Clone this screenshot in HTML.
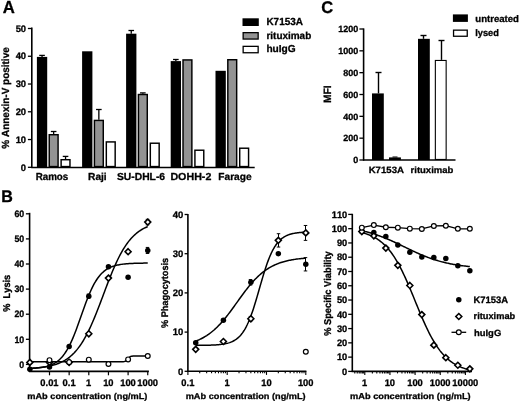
<!DOCTYPE html>
<html><head><meta charset="utf-8"><style>
html,body{margin:0;padding:0;background:#fff;width:520px;height:403px;overflow:hidden}
svg{display:block;will-change:transform;filter:blur(0.3px)}
</style></head><body>
<svg width="520" height="403" viewBox="0 0 520 403"><defs></defs><text transform="translate(2.68,13.45) scale(1,1.0448)" font-size="16.694" font-family="Liberation Sans, sans-serif" font-weight="bold" text-rendering="geometricPrecision" style="font-kerning:none;font-variant-ligatures:none" stroke="#000" stroke-width="0.30" stroke-linejoin="round" xml:space="preserve">A</text>
<line x1="31.80" y1="27.40" x2="31.80" y2="167.90" stroke="#000" stroke-width="1.6"/>
<line x1="27.90" y1="167.30" x2="31.80" y2="167.30" stroke="#000" stroke-width="1.3"/>
<text transform="translate(20.86,170.51) scale(1,0.9917)" font-size="9.4" font-family="Liberation Sans, sans-serif" font-weight="bold" text-rendering="geometricPrecision" style="font-kerning:none;font-variant-ligatures:none" stroke="#000" stroke-width="0.30" stroke-linejoin="round" xml:space="preserve">0</text>
<line x1="27.90" y1="139.54" x2="31.80" y2="139.54" stroke="#000" stroke-width="1.3"/>
<text transform="translate(15.63,142.75) scale(1,0.9917)" font-size="9.4" font-family="Liberation Sans, sans-serif" font-weight="bold" text-rendering="geometricPrecision" style="font-kerning:none;font-variant-ligatures:none" stroke="#000" stroke-width="0.30" stroke-linejoin="round" xml:space="preserve">10</text>
<line x1="27.90" y1="111.78" x2="31.80" y2="111.78" stroke="#000" stroke-width="1.3"/>
<text transform="translate(15.63,114.99) scale(1,0.9917)" font-size="9.4" font-family="Liberation Sans, sans-serif" font-weight="bold" text-rendering="geometricPrecision" style="font-kerning:none;font-variant-ligatures:none" stroke="#000" stroke-width="0.30" stroke-linejoin="round" xml:space="preserve">20</text>
<line x1="27.90" y1="84.02" x2="31.80" y2="84.02" stroke="#000" stroke-width="1.3"/>
<text transform="translate(15.63,87.23) scale(1,0.9917)" font-size="9.4" font-family="Liberation Sans, sans-serif" font-weight="bold" text-rendering="geometricPrecision" style="font-kerning:none;font-variant-ligatures:none" stroke="#000" stroke-width="0.30" stroke-linejoin="round" xml:space="preserve">30</text>
<line x1="27.90" y1="56.26" x2="31.80" y2="56.26" stroke="#000" stroke-width="1.3"/>
<text transform="translate(15.63,59.47) scale(1,0.9917)" font-size="9.4" font-family="Liberation Sans, sans-serif" font-weight="bold" text-rendering="geometricPrecision" style="font-kerning:none;font-variant-ligatures:none" stroke="#000" stroke-width="0.30" stroke-linejoin="round" xml:space="preserve">40</text>
<line x1="27.90" y1="28.50" x2="31.80" y2="28.50" stroke="#000" stroke-width="1.3"/>
<text transform="translate(15.63,31.71) scale(1,0.9917)" font-size="9.4" font-family="Liberation Sans, sans-serif" font-weight="bold" text-rendering="geometricPrecision" style="font-kerning:none;font-variant-ligatures:none" stroke="#000" stroke-width="0.30" stroke-linejoin="round" xml:space="preserve">50</text>
<line x1="31.20" y1="167.45" x2="254.70" y2="167.45" stroke="#000" stroke-width="1.5"/>
<text transform="translate(9.10,148.65) rotate(-90) scale(1,1.0350)" font-size="9.971" font-family="Liberation Sans, sans-serif" font-weight="bold" text-rendering="geometricPrecision" style="font-kerning:none;font-variant-ligatures:none" stroke="#000" stroke-width="0.30" stroke-linejoin="round" xml:space="preserve">% Annexin-V positive</text>
<line x1="42.05" y1="55.40" x2="42.05" y2="56.90" stroke="#000" stroke-width="1.3"/>
<line x1="39.25" y1="55.40" x2="44.85" y2="55.40" stroke="#000" stroke-width="1.3"/>
<rect x="36.90" y="56.90" width="10.30" height="110.40" fill="#000"/>
<line x1="53.65" y1="131.50" x2="53.65" y2="134.00" stroke="#000" stroke-width="1.3"/>
<line x1="50.85" y1="131.50" x2="56.45" y2="131.50" stroke="#000" stroke-width="1.3"/>
<rect x="49.23" y="134.72" width="8.85" height="31.85" fill="#939393" stroke="#000" stroke-width="1.45"/>
<line x1="65.55" y1="156.40" x2="65.55" y2="159.00" stroke="#000" stroke-width="1.3"/>
<line x1="62.75" y1="156.40" x2="68.35" y2="156.40" stroke="#000" stroke-width="1.3"/>
<rect x="61.12" y="159.72" width="8.85" height="6.85" fill="#fff" stroke="#000" stroke-width="1.45"/>
<text transform="translate(35.64,179.85) scale(1,1.0389)" font-size="9.794" font-family="Liberation Sans, sans-serif" font-weight="bold" text-rendering="geometricPrecision" style="font-kerning:none;font-variant-ligatures:none" stroke="#000" stroke-width="0.30" stroke-linejoin="round" xml:space="preserve">Ramos</text>
<rect x="82.10" y="51.30" width="10.30" height="116.00" fill="#000"/>
<line x1="98.85" y1="109.50" x2="98.85" y2="119.70" stroke="#000" stroke-width="1.3"/>
<line x1="96.05" y1="109.50" x2="101.65" y2="109.50" stroke="#000" stroke-width="1.3"/>
<rect x="94.42" y="120.42" width="8.85" height="46.15" fill="#939393" stroke="#000" stroke-width="1.45"/>
<rect x="106.32" y="141.92" width="8.85" height="24.65" fill="#fff" stroke="#000" stroke-width="1.45"/>
<text transform="translate(88.02,179.85) scale(1,0.9976)" font-size="10.199" font-family="Liberation Sans, sans-serif" font-weight="bold" text-rendering="geometricPrecision" style="font-kerning:none;font-variant-ligatures:none" stroke="#000" stroke-width="0.30" stroke-linejoin="round" xml:space="preserve">Raji</text>
<line x1="131.25" y1="30.50" x2="131.25" y2="33.70" stroke="#000" stroke-width="1.3"/>
<line x1="128.45" y1="30.50" x2="134.05" y2="30.50" stroke="#000" stroke-width="1.3"/>
<rect x="126.10" y="33.70" width="10.30" height="133.60" fill="#000"/>
<line x1="142.85" y1="92.90" x2="142.85" y2="93.80" stroke="#000" stroke-width="1.3"/>
<line x1="140.05" y1="92.90" x2="145.65" y2="92.90" stroke="#000" stroke-width="1.3"/>
<rect x="138.42" y="94.52" width="8.85" height="72.05" fill="#939393" stroke="#000" stroke-width="1.45"/>
<rect x="150.32" y="143.22" width="8.85" height="23.35" fill="#fff" stroke="#000" stroke-width="1.45"/>
<text transform="translate(116.90,179.85) scale(1,0.9836)" font-size="10.344" font-family="Liberation Sans, sans-serif" font-weight="bold" text-rendering="geometricPrecision" style="font-kerning:none;font-variant-ligatures:none" stroke="#000" stroke-width="0.30" stroke-linejoin="round" xml:space="preserve">SU-DHL-6</text>
<line x1="175.85" y1="59.50" x2="175.85" y2="61.10" stroke="#000" stroke-width="1.3"/>
<line x1="173.05" y1="59.50" x2="178.65" y2="59.50" stroke="#000" stroke-width="1.3"/>
<rect x="170.70" y="61.10" width="10.30" height="106.20" fill="#000"/>
<rect x="183.02" y="59.93" width="8.85" height="106.65" fill="#939393" stroke="#000" stroke-width="1.45"/>
<rect x="194.92" y="150.22" width="8.85" height="16.35" fill="#fff" stroke="#000" stroke-width="1.45"/>
<text transform="translate(170.38,179.85) scale(1,0.9503)" font-size="10.707" font-family="Liberation Sans, sans-serif" font-weight="bold" text-rendering="geometricPrecision" style="font-kerning:none;font-variant-ligatures:none" stroke="#000" stroke-width="0.30" stroke-linejoin="round" xml:space="preserve">DOHH-2</text>
<rect x="215.50" y="70.80" width="10.30" height="96.50" fill="#000"/>
<rect x="227.82" y="59.73" width="8.85" height="106.85" fill="#939393" stroke="#000" stroke-width="1.45"/>
<rect x="239.72" y="148.22" width="8.85" height="18.35" fill="#fff" stroke="#000" stroke-width="1.45"/>
<text transform="translate(218.32,179.85) scale(1,1.0011)" font-size="10.163" font-family="Liberation Sans, sans-serif" font-weight="bold" text-rendering="geometricPrecision" style="font-kerning:none;font-variant-ligatures:none" stroke="#000" stroke-width="0.30" stroke-linejoin="round" xml:space="preserve">Farage</text>
<rect x="242.50" y="18.30" width="16.30" height="7.70" fill="#000"/>
<rect x="243.15" y="32.65" width="15.00" height="6.40" fill="#939393" stroke="#000" stroke-width="1.3"/>
<rect x="243.15" y="46.35" width="15.00" height="6.40" fill="#fff" stroke="#000" stroke-width="1.3"/>
<text transform="translate(266.43,25.45) scale(1,1.0365)" font-size="9.956" font-family="Liberation Sans, sans-serif" font-weight="bold" text-rendering="geometricPrecision" style="font-kerning:none;font-variant-ligatures:none" stroke="#000" stroke-width="0.30" stroke-linejoin="round" xml:space="preserve">K7153A</text>
<text transform="translate(266.44,39.20) scale(1,1.0207)" font-size="9.968" font-family="Liberation Sans, sans-serif" font-weight="bold" text-rendering="geometricPrecision" style="font-kerning:none;font-variant-ligatures:none" stroke="#000" stroke-width="0.30" stroke-linejoin="round" xml:space="preserve">rituximab</text>
<text transform="translate(266.39,52.35) scale(1,0.9873)" font-size="10.158" font-family="Liberation Sans, sans-serif" font-weight="bold" text-rendering="geometricPrecision" style="font-kerning:none;font-variant-ligatures:none" stroke="#000" stroke-width="0.30" stroke-linejoin="round" xml:space="preserve">huIgG</text>
<text transform="translate(321.32,13.25) scale(1,1.0207)" font-size="16.519" font-family="Liberation Sans, sans-serif" font-weight="bold" text-rendering="geometricPrecision" style="font-kerning:none;font-variant-ligatures:none" stroke="#000" stroke-width="0.30" stroke-linejoin="round" xml:space="preserve">C</text>
<line x1="363.60" y1="28.40" x2="363.60" y2="160.60" stroke="#000" stroke-width="1.6"/>
<line x1="359.40" y1="160.00" x2="363.60" y2="160.00" stroke="#000" stroke-width="1.3"/>
<text transform="translate(353.36,163.26) scale(1,1.0044)" font-size="9.0" font-family="Liberation Sans, sans-serif" font-weight="bold" text-rendering="geometricPrecision" style="font-kerning:none;font-variant-ligatures:none" stroke="#000" stroke-width="0.30" stroke-linejoin="round" xml:space="preserve">0</text>
<line x1="359.40" y1="138.17" x2="363.60" y2="138.17" stroke="#000" stroke-width="1.3"/>
<text transform="translate(343.35,141.43) scale(1,1.0044)" font-size="9.0" font-family="Liberation Sans, sans-serif" font-weight="bold" text-rendering="geometricPrecision" style="font-kerning:none;font-variant-ligatures:none" stroke="#000" stroke-width="0.30" stroke-linejoin="round" xml:space="preserve">200</text>
<line x1="359.40" y1="116.33" x2="363.60" y2="116.33" stroke="#000" stroke-width="1.3"/>
<text transform="translate(343.35,119.60) scale(1,1.0044)" font-size="9.0" font-family="Liberation Sans, sans-serif" font-weight="bold" text-rendering="geometricPrecision" style="font-kerning:none;font-variant-ligatures:none" stroke="#000" stroke-width="0.30" stroke-linejoin="round" xml:space="preserve">400</text>
<line x1="359.40" y1="94.50" x2="363.60" y2="94.50" stroke="#000" stroke-width="1.3"/>
<text transform="translate(343.35,97.76) scale(1,1.0044)" font-size="9.0" font-family="Liberation Sans, sans-serif" font-weight="bold" text-rendering="geometricPrecision" style="font-kerning:none;font-variant-ligatures:none" stroke="#000" stroke-width="0.30" stroke-linejoin="round" xml:space="preserve">600</text>
<line x1="359.40" y1="72.67" x2="363.60" y2="72.67" stroke="#000" stroke-width="1.3"/>
<text transform="translate(343.35,75.93) scale(1,1.0044)" font-size="9.0" font-family="Liberation Sans, sans-serif" font-weight="bold" text-rendering="geometricPrecision" style="font-kerning:none;font-variant-ligatures:none" stroke="#000" stroke-width="0.30" stroke-linejoin="round" xml:space="preserve">800</text>
<line x1="359.40" y1="50.83" x2="363.60" y2="50.83" stroke="#000" stroke-width="1.3"/>
<text transform="translate(338.35,54.10) scale(1,1.0044)" font-size="9.0" font-family="Liberation Sans, sans-serif" font-weight="bold" text-rendering="geometricPrecision" style="font-kerning:none;font-variant-ligatures:none" stroke="#000" stroke-width="0.30" stroke-linejoin="round" xml:space="preserve">1000</text>
<line x1="359.40" y1="29.00" x2="363.60" y2="29.00" stroke="#000" stroke-width="1.3"/>
<text transform="translate(338.35,32.26) scale(1,1.0044)" font-size="9.0" font-family="Liberation Sans, sans-serif" font-weight="bold" text-rendering="geometricPrecision" style="font-kerning:none;font-variant-ligatures:none" stroke="#000" stroke-width="0.30" stroke-linejoin="round" xml:space="preserve">1200</text>
<line x1="363.00" y1="160.00" x2="455.50" y2="160.00" stroke="#000" stroke-width="1.6"/>
<text transform="translate(331.00,102.99) rotate(-90) scale(1,1.0337)" font-size="10.265" font-family="Liberation Sans, sans-serif" font-weight="bold" text-rendering="geometricPrecision" style="font-kerning:none;font-variant-ligatures:none" stroke="#000" stroke-width="0.30" stroke-linejoin="round" xml:space="preserve">MFI</text>
<line x1="378.50" y1="72.50" x2="378.50" y2="93.41" stroke="#000" stroke-width="1.4"/>
<line x1="375.50" y1="72.50" x2="381.50" y2="72.50" stroke="#000" stroke-width="1.4"/>
<rect x="372.00" y="93.41" width="11.80" height="66.59" fill="#000"/>
<rect x="389.70" y="158.10" width="10.50" height="1.20" fill="#666" stroke="#000" stroke-width="1.4"/>
<line x1="392.50" y1="157.00" x2="397.50" y2="157.00" stroke="#000" stroke-width="1.0"/>
<line x1="423.50" y1="35.50" x2="423.50" y2="38.83" stroke="#000" stroke-width="1.4"/>
<line x1="420.50" y1="35.50" x2="426.50" y2="35.50" stroke="#000" stroke-width="1.4"/>
<rect x="418.00" y="38.83" width="11.80" height="121.17" fill="#000"/>
<line x1="441.50" y1="40.50" x2="441.50" y2="59.90" stroke="#000" stroke-width="1.4"/>
<line x1="438.50" y1="40.50" x2="444.50" y2="40.50" stroke="#000" stroke-width="1.4"/>
<rect x="435.35" y="60.45" width="10.80" height="99.00" fill="#fff" stroke="#000" stroke-width="1.1"/>
<text transform="translate(368.65,172.80) scale(1,0.9491)" font-size="9.649" font-family="Liberation Sans, sans-serif" font-weight="bold" text-rendering="geometricPrecision" style="font-kerning:none;font-variant-ligatures:none" stroke="#000" stroke-width="0.30" stroke-linejoin="round" xml:space="preserve">K7153A</text>
<text transform="translate(410.57,172.70) scale(1,0.9320)" font-size="9.513" font-family="Liberation Sans, sans-serif" font-weight="bold" text-rendering="geometricPrecision" style="font-kerning:none;font-variant-ligatures:none" stroke="#000" stroke-width="0.30" stroke-linejoin="round" xml:space="preserve">rituximab</text>
<rect x="452.90" y="14.40" width="15.00" height="7.50" fill="#000"/>
<rect x="453.55" y="30.15" width="13.70" height="6.10" fill="#fff" stroke="#000" stroke-width="1.3"/>
<text transform="translate(475.30,21.50) scale(1,0.9995)" font-size="9.598" font-family="Liberation Sans, sans-serif" font-weight="bold" text-rendering="geometricPrecision" style="font-kerning:none;font-variant-ligatures:none" stroke="#000" stroke-width="0.30" stroke-linejoin="round" xml:space="preserve">untreated</text>
<text transform="translate(475.25,36.00) scale(1,1.0370)" font-size="9.251" font-family="Liberation Sans, sans-serif" font-weight="bold" text-rendering="geometricPrecision" style="font-kerning:none;font-variant-ligatures:none" stroke="#000" stroke-width="0.30" stroke-linejoin="round" xml:space="preserve">lysed</text>
<text transform="translate(1.33,201.70) scale(1,1.0402)" font-size="16.069" font-family="Liberation Sans, sans-serif" font-weight="bold" text-rendering="geometricPrecision" style="font-kerning:none;font-variant-ligatures:none" stroke="#000" stroke-width="0.30" stroke-linejoin="round" xml:space="preserve">B</text>
<line x1="29.60" y1="212.80" x2="29.60" y2="372.00" stroke="#000" stroke-width="1.6"/>
<line x1="25.90" y1="364.40" x2="29.60" y2="364.40" stroke="#000" stroke-width="1.3"/>
<text transform="translate(19.37,367.61) scale(1,1.0593)" font-size="8.8" font-family="Liberation Sans, sans-serif" font-weight="bold" text-rendering="geometricPrecision" style="font-kerning:none;font-variant-ligatures:none" stroke="#000" stroke-width="0.30" stroke-linejoin="round" xml:space="preserve">0</text>
<line x1="25.90" y1="339.30" x2="29.60" y2="339.30" stroke="#000" stroke-width="1.3"/>
<text transform="translate(14.47,342.51) scale(1,1.0593)" font-size="8.8" font-family="Liberation Sans, sans-serif" font-weight="bold" text-rendering="geometricPrecision" style="font-kerning:none;font-variant-ligatures:none" stroke="#000" stroke-width="0.30" stroke-linejoin="round" xml:space="preserve">10</text>
<line x1="25.90" y1="314.20" x2="29.60" y2="314.20" stroke="#000" stroke-width="1.3"/>
<text transform="translate(14.47,317.41) scale(1,1.0593)" font-size="8.8" font-family="Liberation Sans, sans-serif" font-weight="bold" text-rendering="geometricPrecision" style="font-kerning:none;font-variant-ligatures:none" stroke="#000" stroke-width="0.30" stroke-linejoin="round" xml:space="preserve">20</text>
<line x1="25.90" y1="289.10" x2="29.60" y2="289.10" stroke="#000" stroke-width="1.3"/>
<text transform="translate(14.47,292.31) scale(1,1.0593)" font-size="8.8" font-family="Liberation Sans, sans-serif" font-weight="bold" text-rendering="geometricPrecision" style="font-kerning:none;font-variant-ligatures:none" stroke="#000" stroke-width="0.30" stroke-linejoin="round" xml:space="preserve">30</text>
<line x1="25.90" y1="264.00" x2="29.60" y2="264.00" stroke="#000" stroke-width="1.3"/>
<text transform="translate(14.47,267.21) scale(1,1.0593)" font-size="8.8" font-family="Liberation Sans, sans-serif" font-weight="bold" text-rendering="geometricPrecision" style="font-kerning:none;font-variant-ligatures:none" stroke="#000" stroke-width="0.30" stroke-linejoin="round" xml:space="preserve">40</text>
<line x1="25.90" y1="238.90" x2="29.60" y2="238.90" stroke="#000" stroke-width="1.3"/>
<text transform="translate(14.47,242.11) scale(1,1.0593)" font-size="8.8" font-family="Liberation Sans, sans-serif" font-weight="bold" text-rendering="geometricPrecision" style="font-kerning:none;font-variant-ligatures:none" stroke="#000" stroke-width="0.30" stroke-linejoin="round" xml:space="preserve">50</text>
<line x1="25.90" y1="213.80" x2="29.60" y2="213.80" stroke="#000" stroke-width="1.3"/>
<text transform="translate(14.47,217.01) scale(1,1.0593)" font-size="8.8" font-family="Liberation Sans, sans-serif" font-weight="bold" text-rendering="geometricPrecision" style="font-kerning:none;font-variant-ligatures:none" stroke="#000" stroke-width="0.30" stroke-linejoin="round" xml:space="preserve">60</text>
<line x1="29.00" y1="371.40" x2="148.90" y2="371.40" stroke="#000" stroke-width="1.6"/>
<line x1="49.50" y1="371.40" x2="49.50" y2="375.30" stroke="#000" stroke-width="1.2"/>
<line x1="69.15" y1="371.40" x2="69.15" y2="375.30" stroke="#000" stroke-width="1.2"/>
<line x1="88.80" y1="371.40" x2="88.80" y2="375.30" stroke="#000" stroke-width="1.2"/>
<line x1="108.45" y1="371.40" x2="108.45" y2="375.30" stroke="#000" stroke-width="1.2"/>
<line x1="128.10" y1="371.40" x2="128.10" y2="375.30" stroke="#000" stroke-width="1.2"/>
<line x1="147.75" y1="371.40" x2="147.75" y2="375.30" stroke="#000" stroke-width="1.2"/>
<text transform="translate(40.35,385.71) scale(1,1.0272)" font-size="9.35" font-family="Liberation Sans, sans-serif" font-weight="bold" text-rendering="geometricPrecision" style="font-kerning:none;font-variant-ligatures:none" stroke="#000" stroke-width="0.30" stroke-linejoin="round" xml:space="preserve">0.01</text>
<text transform="translate(62.60,385.71) scale(1,1.0272)" font-size="9.35" font-family="Liberation Sans, sans-serif" font-weight="bold" text-rendering="geometricPrecision" style="font-kerning:none;font-variant-ligatures:none" stroke="#000" stroke-width="0.30" stroke-linejoin="round" xml:space="preserve">0.1</text>
<text transform="translate(86.04,385.71) scale(1,1.0272)" font-size="9.35" font-family="Liberation Sans, sans-serif" font-weight="bold" text-rendering="geometricPrecision" style="font-kerning:none;font-variant-ligatures:none" stroke="#000" stroke-width="0.30" stroke-linejoin="round" xml:space="preserve">1</text>
<text transform="translate(103.15,385.71) scale(1,1.0272)" font-size="9.35" font-family="Liberation Sans, sans-serif" font-weight="bold" text-rendering="geometricPrecision" style="font-kerning:none;font-variant-ligatures:none" stroke="#000" stroke-width="0.30" stroke-linejoin="round" xml:space="preserve">10</text>
<text transform="translate(120.20,385.71) scale(1,1.0272)" font-size="9.35" font-family="Liberation Sans, sans-serif" font-weight="bold" text-rendering="geometricPrecision" style="font-kerning:none;font-variant-ligatures:none" stroke="#000" stroke-width="0.30" stroke-linejoin="round" xml:space="preserve">100</text>
<text transform="translate(137.25,385.71) scale(1,1.0272)" font-size="9.35" font-family="Liberation Sans, sans-serif" font-weight="bold" text-rendering="geometricPrecision" style="font-kerning:none;font-variant-ligatures:none" stroke="#000" stroke-width="0.30" stroke-linejoin="round" xml:space="preserve">1000</text>
<text transform="translate(27.29,399.35) scale(1,0.9151)" font-size="9.212" font-family="Liberation Sans, sans-serif" font-weight="bold" text-rendering="geometricPrecision" style="font-kerning:none;font-variant-ligatures:none" stroke="#000" stroke-width="0.30" stroke-linejoin="round" xml:space="preserve">mAb concentration (ng/mL)</text>
<text transform="translate(9.60,311.73) rotate(-90) scale(1,1.0688)" font-size="9.248" font-family="Liberation Sans, sans-serif" font-weight="bold" text-rendering="geometricPrecision" style="font-kerning:none;font-variant-ligatures:none" stroke="#000" stroke-width="0.30" stroke-linejoin="round" xml:space="preserve">%&#160; Lysis</text>
<path d="M29.85 368.50 L30.83 368.45 L31.82 368.40 L32.80 368.34 L33.78 368.28 L34.76 368.21 L35.74 368.13 L36.73 368.04 L37.71 367.95 L38.69 367.84 L39.67 367.72 L40.66 367.59 L41.64 367.44 L42.62 367.28 L43.61 367.10 L44.59 366.90 L45.57 366.68 L46.55 366.43 L47.53 366.16 L48.52 365.86 L49.50 365.53 L50.48 365.17 L51.47 364.76 L52.45 364.32 L53.43 363.83 L54.41 363.29 L55.40 362.70 L56.38 362.05 L57.36 361.34 L58.34 360.56 L59.33 359.71 L60.31 358.78 L61.29 357.76 L62.27 356.66 L63.25 355.47 L64.24 354.17 L65.22 352.78 L66.20 351.27 L67.19 349.66 L68.17 347.93 L69.15 346.09 L70.13 344.14 L71.11 342.07 L72.10 339.90 L73.08 337.61 L74.06 335.23 L75.04 332.75 L76.03 330.18 L77.01 327.55 L77.99 324.85 L78.97 322.10 L79.96 319.32 L80.94 316.52 L81.92 313.71 L82.91 310.92 L83.89 308.16 L84.87 305.44 L85.85 302.78 L86.83 300.18 L87.82 297.67 L88.80 295.24 L89.78 292.92 L90.77 290.70 L91.75 288.59 L92.73 286.59 L93.71 284.70 L94.69 282.93 L95.68 281.27 L96.66 279.73 L97.64 278.29 L98.62 276.95 L99.61 275.72 L100.59 274.58 L101.57 273.53 L102.56 272.57 L103.54 271.69 L104.52 270.88 L105.50 270.14 L106.48 269.46 L107.47 268.85 L108.45 268.29 L109.43 267.78 L110.41 267.32 L111.40 266.90 L112.38 266.52 L113.36 266.18 L114.34 265.87 L115.33 265.59 L116.31 265.33 L117.29 265.10 L118.27 264.89 L119.26 264.71 L120.24 264.54 L121.22 264.38 L122.20 264.25 L123.19 264.12 L124.17 264.01 L125.15 263.91 L126.13 263.82 L127.12 263.74 L128.10 263.66 L129.08 263.60 L130.06 263.54 L131.05 263.48 L132.03 263.43 L133.01 263.39 L134.00 263.35 L134.98 263.31 L135.96 263.28 L136.94 263.25 L137.93 263.23 L138.91 263.20 L139.89 263.18 L140.87 263.16 L141.85 263.15 L142.84 263.13 L143.82 263.12 L144.80 263.11 L145.78 263.10 L146.77 263.09 L147.75 263.08" fill="none" stroke="#000" stroke-width="1.5" stroke-linejoin="round"/>
<path d="M29.85 368.34 L30.83 368.28 L31.82 368.22 L32.80 368.16 L33.78 368.09 L34.76 368.02 L35.74 367.94 L36.73 367.86 L37.71 367.77 L38.69 367.67 L39.67 367.57 L40.66 367.46 L41.64 367.34 L42.62 367.22 L43.61 367.08 L44.59 366.94 L45.57 366.78 L46.55 366.62 L47.53 366.44 L48.52 366.25 L49.50 366.05 L50.48 365.83 L51.47 365.60 L52.45 365.35 L53.43 365.08 L54.41 364.80 L55.40 364.49 L56.38 364.17 L57.36 363.82 L58.34 363.45 L59.33 363.05 L60.31 362.63 L61.29 362.18 L62.27 361.70 L63.25 361.19 L64.24 360.64 L65.22 360.06 L66.20 359.45 L67.19 358.79 L68.17 358.09 L69.15 357.35 L70.13 356.57 L71.11 355.73 L72.10 354.85 L73.08 353.91 L74.06 352.92 L75.04 351.88 L76.03 350.77 L77.01 349.61 L77.99 348.38 L78.97 347.09 L79.96 345.74 L80.94 344.31 L81.92 342.82 L82.91 341.26 L83.89 339.63 L84.87 337.92 L85.85 336.15 L86.83 334.31 L87.82 332.39 L88.80 330.41 L89.78 328.35 L90.77 326.23 L91.75 324.05 L92.73 321.80 L93.71 319.50 L94.69 317.14 L95.68 314.74 L96.66 312.28 L97.64 309.79 L98.62 307.26 L99.61 304.70 L100.59 302.11 L101.57 299.51 L102.56 296.90 L103.54 294.28 L104.52 291.66 L105.50 289.06 L106.48 286.46 L107.47 283.89 L108.45 281.34 L109.43 278.83 L110.41 276.36 L111.40 273.93 L112.38 271.54 L113.36 269.21 L114.34 266.94 L115.33 264.72 L116.31 262.57 L117.29 260.48 L118.27 258.46 L119.26 256.51 L120.24 254.63 L121.22 252.82 L122.20 251.09 L123.19 249.42 L124.17 247.82 L125.15 246.30 L126.13 244.84 L127.12 243.45 L128.10 242.13 L129.08 240.87 L130.06 239.67 L131.05 238.54 L132.03 237.46 L133.01 236.45 L134.00 235.48 L134.98 234.58 L135.96 233.72 L136.94 232.91 L137.93 232.14 L138.91 231.43 L139.89 230.75 L140.87 230.11 L141.85 229.51 L142.84 228.95 L143.82 228.42 L144.80 227.93 L145.78 227.46 L146.77 227.02 L147.75 226.62" fill="none" stroke="#000" stroke-width="1.5" stroke-linejoin="round"/>
<path d="M29.85 361.71 L30.83 361.71 L31.82 361.71 L32.80 361.71 L33.78 361.71 L34.76 361.71 L35.74 361.71 L36.73 361.71 L37.71 361.71 L38.69 361.71 L39.67 361.71 L40.66 361.71 L41.64 361.71 L42.62 361.71 L43.61 361.71 L44.59 361.71 L45.57 361.71 L46.55 361.71 L47.53 361.71 L48.52 361.71 L49.50 361.71 L50.48 361.71 L51.47 361.71 L52.45 361.71 L53.43 361.71 L54.41 361.71 L55.40 361.71 L56.38 361.71 L57.36 361.71 L58.34 361.71 L59.33 361.71 L60.31 361.71 L61.29 361.71 L62.27 361.71 L63.25 361.71 L64.24 361.71 L65.22 361.71 L66.20 361.71 L67.19 361.71 L68.17 361.71 L69.15 361.71 L70.13 361.71 L71.11 361.71 L72.10 361.71 L73.08 361.71 L74.06 361.71 L75.04 361.71 L76.03 361.71 L77.01 361.71 L77.99 361.71 L78.97 361.71 L79.96 361.71 L80.94 361.71 L81.92 361.71 L82.91 361.71 L83.89 361.71 L84.87 361.71 L85.85 361.71 L86.83 361.71 L87.82 361.71 L88.80 361.71 L89.78 361.71 L90.77 361.71 L91.75 361.71 L92.73 361.71 L93.71 361.71 L94.69 361.71 L95.68 361.71 L96.66 361.71 L97.64 361.71 L98.62 361.71 L99.61 361.71 L100.59 361.71 L101.57 361.71 L102.56 361.71 L103.54 361.71 L104.52 361.71 L105.50 361.71 L106.48 361.71 L107.47 361.71 L108.45 361.71 L109.43 361.71 L110.41 361.71 L111.40 361.71 L112.38 361.71 L113.36 361.71 L114.34 361.71 L115.33 361.71 L116.31 361.71 L117.29 361.71 L118.27 361.71 L119.26 361.71 L120.24 361.71 L121.22 361.71 L122.20 361.69 L123.19 361.66 L124.17 361.57 L125.15 361.38 L126.13 360.93 L127.12 360.09 L128.10 358.87 L129.08 357.64 L130.06 356.80 L131.05 356.35 L132.03 356.16 L133.01 356.07 L134.00 356.04 L134.98 356.03 L135.96 356.02 L136.94 356.02 L137.93 356.02 L138.91 356.02 L139.89 356.02 L140.87 356.02 L141.85 356.02 L142.84 356.02 L143.82 356.02 L144.80 356.02 L145.78 356.02 L146.77 356.02 L147.75 356.02" fill="none" stroke="#000" stroke-width="1.5" stroke-linejoin="round"/>
<line x1="88.50" y1="294.12" x2="88.50" y2="298.14" stroke="#000" stroke-width="1.0"/>
<line x1="86.75" y1="294.12" x2="90.25" y2="294.12" stroke="#000" stroke-width="1.0"/>
<line x1="86.75" y1="298.14" x2="90.25" y2="298.14" stroke="#000" stroke-width="1.0"/>
<line x1="147.50" y1="247.43" x2="147.50" y2="253.46" stroke="#000" stroke-width="1.0"/>
<line x1="145.75" y1="247.43" x2="149.25" y2="247.43" stroke="#000" stroke-width="1.0"/>
<line x1="145.75" y1="253.46" x2="149.25" y2="253.46" stroke="#000" stroke-width="1.0"/>
<line x1="147.50" y1="219.32" x2="147.50" y2="224.84" stroke="#000" stroke-width="1.0"/>
<line x1="145.75" y1="219.32" x2="149.25" y2="219.32" stroke="#000" stroke-width="1.0"/>
<line x1="145.75" y1="224.84" x2="149.25" y2="224.84" stroke="#000" stroke-width="1.0"/>
<circle cx="29.85" cy="369.17" r="2.75" fill="#000"/>
<circle cx="49.50" cy="366.91" r="2.75" fill="#000"/>
<circle cx="69.15" cy="346.58" r="2.75" fill="#000"/>
<circle cx="88.80" cy="296.13" r="2.75" fill="#000"/>
<circle cx="108.45" cy="266.76" r="2.75" fill="#000"/>
<circle cx="128.10" cy="277.30" r="2.75" fill="#000"/>
<circle cx="147.75" cy="250.45" r="2.75" fill="#000"/>
<path d="M29.85 359.41L32.83 362.39L29.85 365.37L26.87 362.39Z" fill="#fff" stroke="#000" stroke-width="1.6"/>
<path d="M49.50 359.41L52.48 362.39L49.50 365.37L46.52 362.39Z" fill="#fff" stroke="#000" stroke-width="1.6"/>
<path d="M69.15 359.41L72.13 362.39L69.15 365.37L66.17 362.39Z" fill="#fff" stroke="#000" stroke-width="1.6"/>
<path d="M88.80 330.80L91.78 333.78L88.80 336.76L85.82 333.78Z" fill="#fff" stroke="#000" stroke-width="1.6"/>
<path d="M108.45 275.08L111.43 278.06L108.45 281.04L105.47 278.06Z" fill="#fff" stroke="#000" stroke-width="1.6"/>
<path d="M128.10 248.72L131.08 251.70L128.10 254.68L125.12 251.70Z" fill="#fff" stroke="#000" stroke-width="1.6"/>
<path d="M147.75 219.10L150.73 222.08L147.75 225.06L144.77 222.08Z" fill="#fff" stroke="#000" stroke-width="1.6"/>
<circle cx="49.50" cy="360.13" r="2.4" fill="#fff" stroke="#000" stroke-width="1.2"/>
<circle cx="69.15" cy="362.14" r="2.4" fill="#fff" stroke="#000" stroke-width="1.2"/>
<circle cx="88.80" cy="359.63" r="2.4" fill="#fff" stroke="#000" stroke-width="1.2"/>
<circle cx="108.45" cy="364.00" r="2.4" fill="#fff" stroke="#000" stroke-width="1.2"/>
<circle cx="128.10" cy="359.38" r="2.4" fill="#fff" stroke="#000" stroke-width="1.2"/>
<circle cx="147.75" cy="356.02" r="2.4" fill="#fff" stroke="#000" stroke-width="1.2"/>
<line x1="187.90" y1="213.90" x2="187.90" y2="371.90" stroke="#000" stroke-width="1.6"/>
<line x1="184.60" y1="371.30" x2="187.90" y2="371.30" stroke="#000" stroke-width="1.3"/>
<text transform="translate(178.11,374.56) scale(1,0.9961)" font-size="9.5" font-family="Liberation Sans, sans-serif" font-weight="bold" text-rendering="geometricPrecision" style="font-kerning:none;font-variant-ligatures:none" stroke="#000" stroke-width="0.30" stroke-linejoin="round" xml:space="preserve">0</text>
<line x1="184.60" y1="332.10" x2="187.90" y2="332.10" stroke="#000" stroke-width="1.3"/>
<text transform="translate(172.82,335.36) scale(1,0.9961)" font-size="9.5" font-family="Liberation Sans, sans-serif" font-weight="bold" text-rendering="geometricPrecision" style="font-kerning:none;font-variant-ligatures:none" stroke="#000" stroke-width="0.30" stroke-linejoin="round" xml:space="preserve">10</text>
<line x1="184.60" y1="292.90" x2="187.90" y2="292.90" stroke="#000" stroke-width="1.3"/>
<text transform="translate(172.82,296.16) scale(1,0.9961)" font-size="9.5" font-family="Liberation Sans, sans-serif" font-weight="bold" text-rendering="geometricPrecision" style="font-kerning:none;font-variant-ligatures:none" stroke="#000" stroke-width="0.30" stroke-linejoin="round" xml:space="preserve">20</text>
<line x1="184.60" y1="253.70" x2="187.90" y2="253.70" stroke="#000" stroke-width="1.3"/>
<text transform="translate(172.82,256.96) scale(1,0.9961)" font-size="9.5" font-family="Liberation Sans, sans-serif" font-weight="bold" text-rendering="geometricPrecision" style="font-kerning:none;font-variant-ligatures:none" stroke="#000" stroke-width="0.30" stroke-linejoin="round" xml:space="preserve">30</text>
<line x1="184.60" y1="214.50" x2="187.90" y2="214.50" stroke="#000" stroke-width="1.3"/>
<text transform="translate(172.82,217.76) scale(1,0.9961)" font-size="9.5" font-family="Liberation Sans, sans-serif" font-weight="bold" text-rendering="geometricPrecision" style="font-kerning:none;font-variant-ligatures:none" stroke="#000" stroke-width="0.30" stroke-linejoin="round" xml:space="preserve">40</text>
<line x1="187.30" y1="371.30" x2="306.40" y2="371.30" stroke="#000" stroke-width="1.6"/>
<line x1="187.90" y1="371.30" x2="187.90" y2="374.90" stroke="#000" stroke-width="1.1"/>
<line x1="199.73" y1="371.30" x2="199.73" y2="373.30" stroke="#000" stroke-width="1.1"/>
<line x1="206.65" y1="371.30" x2="206.65" y2="373.30" stroke="#000" stroke-width="1.1"/>
<line x1="211.56" y1="371.30" x2="211.56" y2="373.30" stroke="#000" stroke-width="1.1"/>
<line x1="215.37" y1="371.30" x2="215.37" y2="373.30" stroke="#000" stroke-width="1.1"/>
<line x1="218.48" y1="371.30" x2="218.48" y2="373.30" stroke="#000" stroke-width="1.1"/>
<line x1="221.11" y1="371.30" x2="221.11" y2="373.30" stroke="#000" stroke-width="1.1"/>
<line x1="223.39" y1="371.30" x2="223.39" y2="373.30" stroke="#000" stroke-width="1.1"/>
<line x1="225.40" y1="371.30" x2="225.40" y2="373.30" stroke="#000" stroke-width="1.1"/>
<line x1="227.20" y1="371.30" x2="227.20" y2="374.90" stroke="#000" stroke-width="1.1"/>
<line x1="239.03" y1="371.30" x2="239.03" y2="373.30" stroke="#000" stroke-width="1.1"/>
<line x1="245.95" y1="371.30" x2="245.95" y2="373.30" stroke="#000" stroke-width="1.1"/>
<line x1="250.86" y1="371.30" x2="250.86" y2="373.30" stroke="#000" stroke-width="1.1"/>
<line x1="254.67" y1="371.30" x2="254.67" y2="373.30" stroke="#000" stroke-width="1.1"/>
<line x1="257.78" y1="371.30" x2="257.78" y2="373.30" stroke="#000" stroke-width="1.1"/>
<line x1="260.41" y1="371.30" x2="260.41" y2="373.30" stroke="#000" stroke-width="1.1"/>
<line x1="262.69" y1="371.30" x2="262.69" y2="373.30" stroke="#000" stroke-width="1.1"/>
<line x1="264.70" y1="371.30" x2="264.70" y2="373.30" stroke="#000" stroke-width="1.1"/>
<line x1="266.50" y1="371.30" x2="266.50" y2="374.90" stroke="#000" stroke-width="1.1"/>
<line x1="278.33" y1="371.30" x2="278.33" y2="373.30" stroke="#000" stroke-width="1.1"/>
<line x1="285.25" y1="371.30" x2="285.25" y2="373.30" stroke="#000" stroke-width="1.1"/>
<line x1="290.16" y1="371.30" x2="290.16" y2="373.30" stroke="#000" stroke-width="1.1"/>
<line x1="293.97" y1="371.30" x2="293.97" y2="373.30" stroke="#000" stroke-width="1.1"/>
<line x1="297.08" y1="371.30" x2="297.08" y2="373.30" stroke="#000" stroke-width="1.1"/>
<line x1="299.71" y1="371.30" x2="299.71" y2="373.30" stroke="#000" stroke-width="1.1"/>
<line x1="301.99" y1="371.30" x2="301.99" y2="373.30" stroke="#000" stroke-width="1.1"/>
<line x1="304.00" y1="371.30" x2="304.00" y2="373.30" stroke="#000" stroke-width="1.1"/>
<line x1="305.80" y1="371.30" x2="305.80" y2="374.90" stroke="#000" stroke-width="1.1"/>
<text transform="translate(181.35,385.71) scale(1,1.0272)" font-size="9.35" font-family="Liberation Sans, sans-serif" font-weight="bold" text-rendering="geometricPrecision" style="font-kerning:none;font-variant-ligatures:none" stroke="#000" stroke-width="0.30" stroke-linejoin="round" xml:space="preserve">0.1</text>
<text transform="translate(224.44,385.71) scale(1,1.0272)" font-size="9.35" font-family="Liberation Sans, sans-serif" font-weight="bold" text-rendering="geometricPrecision" style="font-kerning:none;font-variant-ligatures:none" stroke="#000" stroke-width="0.30" stroke-linejoin="round" xml:space="preserve">1</text>
<text transform="translate(261.20,385.71) scale(1,1.0272)" font-size="9.35" font-family="Liberation Sans, sans-serif" font-weight="bold" text-rendering="geometricPrecision" style="font-kerning:none;font-variant-ligatures:none" stroke="#000" stroke-width="0.30" stroke-linejoin="round" xml:space="preserve">10</text>
<text transform="translate(297.90,385.71) scale(1,1.0272)" font-size="9.35" font-family="Liberation Sans, sans-serif" font-weight="bold" text-rendering="geometricPrecision" style="font-kerning:none;font-variant-ligatures:none" stroke="#000" stroke-width="0.30" stroke-linejoin="round" xml:space="preserve">100</text>
<text transform="translate(185.69,399.20) scale(1,0.9167)" font-size="9.197" font-family="Liberation Sans, sans-serif" font-weight="bold" text-rendering="geometricPrecision" style="font-kerning:none;font-variant-ligatures:none" stroke="#000" stroke-width="0.30" stroke-linejoin="round" xml:space="preserve">mAb concentration (ng/mL)</text>
<text transform="translate(168.00,328.03) rotate(-90) scale(1,1.0464)" font-size="9.167" font-family="Liberation Sans, sans-serif" font-weight="bold" text-rendering="geometricPrecision" style="font-kerning:none;font-variant-ligatures:none" stroke="#000" stroke-width="0.30" stroke-linejoin="round" xml:space="preserve">% Phagocytosis</text>
<path d="M195.71 341.14 L196.62 340.79 L197.54 340.41 L198.46 340.02 L199.38 339.61 L200.29 339.18 L201.21 338.73 L202.13 338.26 L203.05 337.77 L203.96 337.26 L204.88 336.72 L205.80 336.16 L206.72 335.58 L207.63 334.97 L208.55 334.34 L209.47 333.68 L210.39 332.99 L211.30 332.28 L212.22 331.54 L213.14 330.77 L214.06 329.98 L214.97 329.16 L215.89 328.31 L216.81 327.43 L217.73 326.52 L218.64 325.59 L219.56 324.63 L220.48 323.64 L221.40 322.63 L222.31 321.59 L223.23 320.52 L224.15 319.43 L225.07 318.32 L225.98 317.19 L226.90 316.03 L227.82 314.85 L228.74 313.66 L229.65 312.45 L230.57 311.22 L231.49 309.98 L232.40 308.73 L233.32 307.46 L234.24 306.19 L235.16 304.92 L236.07 303.64 L236.99 302.35 L237.91 301.07 L238.83 299.79 L239.74 298.51 L240.66 297.24 L241.58 295.98 L242.50 294.73 L243.41 293.48 L244.33 292.26 L245.25 291.04 L246.17 289.85 L247.08 288.67 L248.00 287.51 L248.92 286.38 L249.84 285.26 L250.75 284.17 L251.67 283.10 L252.59 282.06 L253.51 281.05 L254.42 280.06 L255.34 279.10 L256.26 278.16 L257.18 277.25 L258.09 276.37 L259.01 275.52 L259.93 274.70 L260.85 273.90 L261.76 273.13 L262.68 272.39 L263.60 271.68 L264.52 270.99 L265.43 270.33 L266.35 269.69 L267.27 269.08 L268.18 268.50 L269.10 267.93 L270.02 267.40 L270.94 266.88 L271.85 266.39 L272.77 265.91 L273.69 265.46 L274.61 265.03 L275.52 264.62 L276.44 264.23 L277.36 263.85 L278.28 263.50 L279.19 263.16 L280.11 262.83 L281.03 262.53 L281.95 262.23 L282.86 261.95 L283.78 261.69 L284.70 261.43 L285.62 261.19 L286.53 260.96 L287.45 260.75 L288.37 260.54 L289.29 260.35 L290.20 260.16 L291.12 259.98 L292.04 259.82 L292.96 259.66 L293.87 259.51 L294.79 259.37 L295.71 259.23 L296.63 259.10 L297.54 258.98 L298.46 258.87 L299.38 258.76 L300.30 258.65 L301.21 258.56 L302.13 258.46 L303.05 258.38 L303.97 258.29 L304.88 258.21 L305.80 258.14" fill="none" stroke="#000" stroke-width="1.5" stroke-linejoin="round"/>
<path d="M195.71 345.38 L196.62 345.38 L197.54 345.37 L198.46 345.37 L199.38 345.36 L200.29 345.35 L201.21 345.34 L202.13 345.33 L203.05 345.32 L203.96 345.30 L204.88 345.29 L205.80 345.27 L206.72 345.25 L207.63 345.23 L208.55 345.21 L209.47 345.19 L210.39 345.16 L211.30 345.12 L212.22 345.09 L213.14 345.05 L214.06 345.00 L214.97 344.95 L215.89 344.89 L216.81 344.83 L217.73 344.76 L218.64 344.68 L219.56 344.59 L220.48 344.49 L221.40 344.38 L222.31 344.26 L223.23 344.12 L224.15 343.97 L225.07 343.79 L225.98 343.60 L226.90 343.39 L227.82 343.15 L228.74 342.88 L229.65 342.59 L230.57 342.26 L231.49 341.89 L232.40 341.48 L233.32 341.03 L234.24 340.52 L235.16 339.96 L236.07 339.35 L236.99 338.66 L237.91 337.91 L238.83 337.08 L239.74 336.16 L240.66 335.15 L241.58 334.05 L242.50 332.84 L243.41 331.52 L244.33 330.08 L245.25 328.52 L246.17 326.83 L247.08 325.00 L248.00 323.04 L248.92 320.94 L249.84 318.71 L250.75 316.33 L251.67 313.82 L252.59 311.18 L253.51 308.42 L254.42 305.55 L255.34 302.58 L256.26 299.53 L257.18 296.41 L258.09 293.24 L259.01 290.04 L259.93 286.83 L260.85 283.64 L261.76 280.47 L262.68 277.36 L263.60 274.31 L264.52 271.35 L265.43 268.49 L266.35 265.74 L267.27 263.11 L268.18 260.62 L269.10 258.25 L270.02 256.03 L270.94 253.94 L271.85 252.00 L272.77 250.18 L273.69 248.51 L274.61 246.96 L275.52 245.53 L276.44 244.22 L277.36 243.02 L278.28 241.93 L279.19 240.93 L280.11 240.02 L281.03 239.19 L281.95 238.45 L282.86 237.77 L283.78 237.16 L284.70 236.60 L285.62 236.11 L286.53 235.66 L287.45 235.25 L288.37 234.89 L289.29 234.56 L290.20 234.27 L291.12 234.00 L292.04 233.77 L292.96 233.56 L293.87 233.37 L294.79 233.19 L295.71 233.04 L296.63 232.91 L297.54 232.78 L298.46 232.67 L299.38 232.58 L300.30 232.49 L301.21 232.41 L302.13 232.34 L303.05 232.28 L303.97 232.22 L304.88 232.17 L305.80 232.12" fill="none" stroke="#000" stroke-width="1.5" stroke-linejoin="round"/>
<line x1="250.50" y1="279.57" x2="250.50" y2="285.06" stroke="#000" stroke-width="1.0"/>
<line x1="248.75" y1="279.57" x2="252.25" y2="279.57" stroke="#000" stroke-width="1.0"/>
<line x1="248.75" y1="285.06" x2="252.25" y2="285.06" stroke="#000" stroke-width="1.0"/>
<line x1="305.50" y1="257.62" x2="305.50" y2="270.95" stroke="#000" stroke-width="1.0"/>
<line x1="303.75" y1="257.62" x2="307.25" y2="257.62" stroke="#000" stroke-width="1.0"/>
<line x1="303.75" y1="270.95" x2="307.25" y2="270.95" stroke="#000" stroke-width="1.0"/>
<line x1="278.50" y1="233.71" x2="278.50" y2="247.04" stroke="#000" stroke-width="1.0"/>
<line x1="276.75" y1="233.71" x2="280.25" y2="233.71" stroke="#000" stroke-width="1.0"/>
<line x1="276.75" y1="247.04" x2="280.25" y2="247.04" stroke="#000" stroke-width="1.0"/>
<line x1="305.50" y1="225.48" x2="305.50" y2="240.37" stroke="#000" stroke-width="1.0"/>
<line x1="303.75" y1="225.48" x2="307.25" y2="225.48" stroke="#000" stroke-width="1.0"/>
<line x1="303.75" y1="240.37" x2="307.25" y2="240.37" stroke="#000" stroke-width="1.0"/>
<line x1="250.50" y1="316.42" x2="250.50" y2="321.12" stroke="#000" stroke-width="1.0"/>
<line x1="248.75" y1="316.42" x2="252.25" y2="316.42" stroke="#000" stroke-width="1.0"/>
<line x1="248.75" y1="321.12" x2="252.25" y2="321.12" stroke="#000" stroke-width="1.0"/>
<circle cx="195.71" cy="342.68" r="2.75" fill="#000"/>
<circle cx="223.39" cy="320.34" r="2.75" fill="#000"/>
<circle cx="250.86" cy="282.32" r="2.75" fill="#000"/>
<circle cx="278.33" cy="253.70" r="2.75" fill="#000"/>
<circle cx="305.80" cy="264.28" r="2.75" fill="#000"/>
<path d="M195.71 346.37L198.69 349.35L195.71 352.33L192.73 349.35Z" fill="#fff" stroke="#000" stroke-width="1.6"/>
<path d="M223.39 338.53L226.37 341.51L223.39 344.49L220.41 341.51Z" fill="#fff" stroke="#000" stroke-width="1.6"/>
<path d="M250.86 315.79L253.84 318.77L250.86 321.75L247.88 318.77Z" fill="#fff" stroke="#000" stroke-width="1.6"/>
<path d="M278.33 237.39L281.31 240.37L278.33 243.35L275.35 240.37Z" fill="#fff" stroke="#000" stroke-width="1.6"/>
<path d="M305.80 229.94L308.78 232.92L305.80 235.90L302.82 232.92Z" fill="#fff" stroke="#000" stroke-width="1.6"/>
<circle cx="305.80" cy="351.70" r="2.4" fill="#fff" stroke="#000" stroke-width="1.2"/>
<line x1="352.30" y1="213.80" x2="352.30" y2="372.00" stroke="#000" stroke-width="1.6"/>
<line x1="348.20" y1="371.40" x2="352.30" y2="371.40" stroke="#000" stroke-width="1.3"/>
<text transform="translate(342.11,374.66) scale(1,1.0175)" font-size="9.3" font-family="Liberation Sans, sans-serif" font-weight="bold" text-rendering="geometricPrecision" style="font-kerning:none;font-variant-ligatures:none" stroke="#000" stroke-width="0.30" stroke-linejoin="round" xml:space="preserve">0</text>
<line x1="348.20" y1="357.13" x2="352.30" y2="357.13" stroke="#000" stroke-width="1.3"/>
<text transform="translate(336.94,360.38) scale(1,1.0175)" font-size="9.3" font-family="Liberation Sans, sans-serif" font-weight="bold" text-rendering="geometricPrecision" style="font-kerning:none;font-variant-ligatures:none" stroke="#000" stroke-width="0.30" stroke-linejoin="round" xml:space="preserve">10</text>
<line x1="348.20" y1="342.85" x2="352.30" y2="342.85" stroke="#000" stroke-width="1.3"/>
<text transform="translate(336.94,346.11) scale(1,1.0175)" font-size="9.3" font-family="Liberation Sans, sans-serif" font-weight="bold" text-rendering="geometricPrecision" style="font-kerning:none;font-variant-ligatures:none" stroke="#000" stroke-width="0.30" stroke-linejoin="round" xml:space="preserve">20</text>
<line x1="348.20" y1="328.58" x2="352.30" y2="328.58" stroke="#000" stroke-width="1.3"/>
<text transform="translate(336.94,331.84) scale(1,1.0175)" font-size="9.3" font-family="Liberation Sans, sans-serif" font-weight="bold" text-rendering="geometricPrecision" style="font-kerning:none;font-variant-ligatures:none" stroke="#000" stroke-width="0.30" stroke-linejoin="round" xml:space="preserve">30</text>
<line x1="348.20" y1="314.31" x2="352.30" y2="314.31" stroke="#000" stroke-width="1.3"/>
<text transform="translate(336.94,317.57) scale(1,1.0175)" font-size="9.3" font-family="Liberation Sans, sans-serif" font-weight="bold" text-rendering="geometricPrecision" style="font-kerning:none;font-variant-ligatures:none" stroke="#000" stroke-width="0.30" stroke-linejoin="round" xml:space="preserve">40</text>
<line x1="348.20" y1="300.04" x2="352.30" y2="300.04" stroke="#000" stroke-width="1.3"/>
<text transform="translate(336.94,303.29) scale(1,1.0175)" font-size="9.3" font-family="Liberation Sans, sans-serif" font-weight="bold" text-rendering="geometricPrecision" style="font-kerning:none;font-variant-ligatures:none" stroke="#000" stroke-width="0.30" stroke-linejoin="round" xml:space="preserve">50</text>
<line x1="348.20" y1="285.76" x2="352.30" y2="285.76" stroke="#000" stroke-width="1.3"/>
<text transform="translate(336.94,289.02) scale(1,1.0175)" font-size="9.3" font-family="Liberation Sans, sans-serif" font-weight="bold" text-rendering="geometricPrecision" style="font-kerning:none;font-variant-ligatures:none" stroke="#000" stroke-width="0.30" stroke-linejoin="round" xml:space="preserve">60</text>
<line x1="348.20" y1="271.49" x2="352.30" y2="271.49" stroke="#000" stroke-width="1.3"/>
<text transform="translate(336.94,274.75) scale(1,1.0175)" font-size="9.3" font-family="Liberation Sans, sans-serif" font-weight="bold" text-rendering="geometricPrecision" style="font-kerning:none;font-variant-ligatures:none" stroke="#000" stroke-width="0.30" stroke-linejoin="round" xml:space="preserve">70</text>
<line x1="348.20" y1="257.22" x2="352.30" y2="257.22" stroke="#000" stroke-width="1.3"/>
<text transform="translate(336.94,260.48) scale(1,1.0175)" font-size="9.3" font-family="Liberation Sans, sans-serif" font-weight="bold" text-rendering="geometricPrecision" style="font-kerning:none;font-variant-ligatures:none" stroke="#000" stroke-width="0.30" stroke-linejoin="round" xml:space="preserve">80</text>
<line x1="348.20" y1="242.95" x2="352.30" y2="242.95" stroke="#000" stroke-width="1.3"/>
<text transform="translate(336.94,246.20) scale(1,1.0175)" font-size="9.3" font-family="Liberation Sans, sans-serif" font-weight="bold" text-rendering="geometricPrecision" style="font-kerning:none;font-variant-ligatures:none" stroke="#000" stroke-width="0.30" stroke-linejoin="round" xml:space="preserve">90</text>
<line x1="348.20" y1="228.67" x2="352.30" y2="228.67" stroke="#000" stroke-width="1.3"/>
<text transform="translate(331.76,231.93) scale(1,1.0175)" font-size="9.3" font-family="Liberation Sans, sans-serif" font-weight="bold" text-rendering="geometricPrecision" style="font-kerning:none;font-variant-ligatures:none" stroke="#000" stroke-width="0.30" stroke-linejoin="round" xml:space="preserve">100</text>
<line x1="348.20" y1="214.40" x2="352.30" y2="214.40" stroke="#000" stroke-width="1.3"/>
<text transform="translate(331.76,217.66) scale(1,1.0175)" font-size="9.3" font-family="Liberation Sans, sans-serif" font-weight="bold" text-rendering="geometricPrecision" style="font-kerning:none;font-variant-ligatures:none" stroke="#000" stroke-width="0.30" stroke-linejoin="round" xml:space="preserve">110</text>
<line x1="351.70" y1="371.40" x2="472.00" y2="371.40" stroke="#000" stroke-width="1.6"/>
<line x1="354.79" y1="371.40" x2="354.79" y2="373.40" stroke="#000" stroke-width="1.1"/>
<line x1="357.23" y1="371.40" x2="357.23" y2="373.40" stroke="#000" stroke-width="1.1"/>
<line x1="359.22" y1="371.40" x2="359.22" y2="373.40" stroke="#000" stroke-width="1.1"/>
<line x1="360.90" y1="371.40" x2="360.90" y2="373.40" stroke="#000" stroke-width="1.1"/>
<line x1="362.36" y1="371.40" x2="362.36" y2="373.40" stroke="#000" stroke-width="1.1"/>
<line x1="363.65" y1="371.40" x2="363.65" y2="373.40" stroke="#000" stroke-width="1.1"/>
<line x1="364.80" y1="371.40" x2="364.80" y2="375.00" stroke="#000" stroke-width="1.1"/>
<line x1="372.37" y1="371.40" x2="372.37" y2="373.40" stroke="#000" stroke-width="1.1"/>
<line x1="376.80" y1="371.40" x2="376.80" y2="373.40" stroke="#000" stroke-width="1.1"/>
<line x1="379.94" y1="371.40" x2="379.94" y2="373.40" stroke="#000" stroke-width="1.1"/>
<line x1="382.38" y1="371.40" x2="382.38" y2="373.40" stroke="#000" stroke-width="1.1"/>
<line x1="384.37" y1="371.40" x2="384.37" y2="373.40" stroke="#000" stroke-width="1.1"/>
<line x1="386.05" y1="371.40" x2="386.05" y2="373.40" stroke="#000" stroke-width="1.1"/>
<line x1="387.51" y1="371.40" x2="387.51" y2="373.40" stroke="#000" stroke-width="1.1"/>
<line x1="388.80" y1="371.40" x2="388.80" y2="373.40" stroke="#000" stroke-width="1.1"/>
<line x1="389.95" y1="371.40" x2="389.95" y2="375.00" stroke="#000" stroke-width="1.1"/>
<line x1="397.52" y1="371.40" x2="397.52" y2="373.40" stroke="#000" stroke-width="1.1"/>
<line x1="401.95" y1="371.40" x2="401.95" y2="373.40" stroke="#000" stroke-width="1.1"/>
<line x1="405.09" y1="371.40" x2="405.09" y2="373.40" stroke="#000" stroke-width="1.1"/>
<line x1="407.53" y1="371.40" x2="407.53" y2="373.40" stroke="#000" stroke-width="1.1"/>
<line x1="409.52" y1="371.40" x2="409.52" y2="373.40" stroke="#000" stroke-width="1.1"/>
<line x1="411.20" y1="371.40" x2="411.20" y2="373.40" stroke="#000" stroke-width="1.1"/>
<line x1="412.66" y1="371.40" x2="412.66" y2="373.40" stroke="#000" stroke-width="1.1"/>
<line x1="413.95" y1="371.40" x2="413.95" y2="373.40" stroke="#000" stroke-width="1.1"/>
<line x1="415.10" y1="371.40" x2="415.10" y2="375.00" stroke="#000" stroke-width="1.1"/>
<line x1="422.67" y1="371.40" x2="422.67" y2="373.40" stroke="#000" stroke-width="1.1"/>
<line x1="427.10" y1="371.40" x2="427.10" y2="373.40" stroke="#000" stroke-width="1.1"/>
<line x1="430.24" y1="371.40" x2="430.24" y2="373.40" stroke="#000" stroke-width="1.1"/>
<line x1="432.68" y1="371.40" x2="432.68" y2="373.40" stroke="#000" stroke-width="1.1"/>
<line x1="434.67" y1="371.40" x2="434.67" y2="373.40" stroke="#000" stroke-width="1.1"/>
<line x1="436.35" y1="371.40" x2="436.35" y2="373.40" stroke="#000" stroke-width="1.1"/>
<line x1="437.81" y1="371.40" x2="437.81" y2="373.40" stroke="#000" stroke-width="1.1"/>
<line x1="439.10" y1="371.40" x2="439.10" y2="373.40" stroke="#000" stroke-width="1.1"/>
<line x1="440.25" y1="371.40" x2="440.25" y2="375.00" stroke="#000" stroke-width="1.1"/>
<line x1="447.82" y1="371.40" x2="447.82" y2="373.40" stroke="#000" stroke-width="1.1"/>
<line x1="452.25" y1="371.40" x2="452.25" y2="373.40" stroke="#000" stroke-width="1.1"/>
<line x1="455.39" y1="371.40" x2="455.39" y2="373.40" stroke="#000" stroke-width="1.1"/>
<line x1="457.83" y1="371.40" x2="457.83" y2="373.40" stroke="#000" stroke-width="1.1"/>
<line x1="459.82" y1="371.40" x2="459.82" y2="373.40" stroke="#000" stroke-width="1.1"/>
<line x1="461.50" y1="371.40" x2="461.50" y2="373.40" stroke="#000" stroke-width="1.1"/>
<line x1="462.96" y1="371.40" x2="462.96" y2="373.40" stroke="#000" stroke-width="1.1"/>
<line x1="464.25" y1="371.40" x2="464.25" y2="373.40" stroke="#000" stroke-width="1.1"/>
<line x1="465.40" y1="371.40" x2="465.40" y2="375.00" stroke="#000" stroke-width="1.1"/>
<text transform="translate(362.04,385.71) scale(1,1.0272)" font-size="9.35" font-family="Liberation Sans, sans-serif" font-weight="bold" text-rendering="geometricPrecision" style="font-kerning:none;font-variant-ligatures:none" stroke="#000" stroke-width="0.30" stroke-linejoin="round" xml:space="preserve">1</text>
<text transform="translate(384.65,385.71) scale(1,1.0272)" font-size="9.35" font-family="Liberation Sans, sans-serif" font-weight="bold" text-rendering="geometricPrecision" style="font-kerning:none;font-variant-ligatures:none" stroke="#000" stroke-width="0.30" stroke-linejoin="round" xml:space="preserve">10</text>
<text transform="translate(407.20,385.71) scale(1,1.0272)" font-size="9.35" font-family="Liberation Sans, sans-serif" font-weight="bold" text-rendering="geometricPrecision" style="font-kerning:none;font-variant-ligatures:none" stroke="#000" stroke-width="0.30" stroke-linejoin="round" xml:space="preserve">100</text>
<text transform="translate(429.75,385.71) scale(1,1.0272)" font-size="9.35" font-family="Liberation Sans, sans-serif" font-weight="bold" text-rendering="geometricPrecision" style="font-kerning:none;font-variant-ligatures:none" stroke="#000" stroke-width="0.30" stroke-linejoin="round" xml:space="preserve">1000</text>
<text transform="translate(452.30,385.71) scale(1,1.0272)" font-size="9.35" font-family="Liberation Sans, sans-serif" font-weight="bold" text-rendering="geometricPrecision" style="font-kerning:none;font-variant-ligatures:none" stroke="#000" stroke-width="0.30" stroke-linejoin="round" xml:space="preserve">10000</text>
<text transform="translate(350.09,399.40) scale(1,0.9278)" font-size="9.243" font-family="Liberation Sans, sans-serif" font-weight="bold" text-rendering="geometricPrecision" style="font-kerning:none;font-variant-ligatures:none" stroke="#000" stroke-width="0.30" stroke-linejoin="round" xml:space="preserve">mAb concentration (ng/mL)</text>
<text transform="translate(330.60,335.83) rotate(-90) scale(1,1.0651)" font-size="9.28" font-family="Liberation Sans, sans-serif" font-weight="bold" text-rendering="geometricPrecision" style="font-kerning:none;font-variant-ligatures:none" stroke="#000" stroke-width="0.30" stroke-linejoin="round" xml:space="preserve">% Specific Viability</text>
<path d="M361.83 227.67 L373.83 225.10 L385.83 227.25 L397.83 227.67 L409.83 228.67 L421.83 228.96 L433.83 225.96 L445.83 225.68 L457.83 228.82 L469.83 228.82" fill="none" stroke="#000" stroke-width="1.3" stroke-linejoin="round"/>
<path d="M361.83 230.78 L362.73 230.98 L363.63 231.19 L364.53 231.40 L365.43 231.62 L366.33 231.85 L367.23 232.08 L368.13 232.32 L369.03 232.57 L369.93 232.82 L370.83 233.08 L371.73 233.34 L372.63 233.61 L373.53 233.89 L374.43 234.18 L375.33 234.47 L376.23 234.77 L377.13 235.07 L378.03 235.39 L378.93 235.70 L379.83 236.03 L380.73 236.36 L381.63 236.70 L382.53 237.04 L383.43 237.39 L384.33 237.75 L385.23 238.12 L386.13 238.48 L387.03 238.86 L387.93 239.24 L388.83 239.62 L389.73 240.02 L390.63 240.41 L391.53 240.81 L392.43 241.22 L393.33 241.63 L394.23 242.04 L395.13 242.46 L396.03 242.88 L396.93 243.30 L397.83 243.73 L398.73 244.15 L399.63 244.59 L400.53 245.02 L401.43 245.45 L402.33 245.89 L403.23 246.32 L404.13 246.76 L405.03 247.20 L405.93 247.64 L406.83 248.07 L407.73 248.51 L408.63 248.94 L409.53 249.37 L410.43 249.80 L411.33 250.23 L412.23 250.66 L413.13 251.08 L414.03 251.50 L414.93 251.92 L415.83 252.33 L416.73 252.74 L417.63 253.14 L418.53 253.54 L419.43 253.94 L420.33 254.33 L421.23 254.71 L422.13 255.09 L423.03 255.47 L423.93 255.83 L424.83 256.20 L425.73 256.55 L426.63 256.90 L427.53 257.25 L428.43 257.58 L429.33 257.91 L430.23 258.24 L431.13 258.56 L432.03 258.87 L432.93 259.17 L433.83 259.47 L434.73 259.76 L435.63 260.04 L436.53 260.32 L437.43 260.59 L438.33 260.86 L439.23 261.11 L440.13 261.36 L441.03 261.61 L441.93 261.85 L442.83 262.08 L443.73 262.30 L444.63 262.52 L445.53 262.74 L446.43 262.94 L447.33 263.14 L448.23 263.34 L449.13 263.53 L450.03 263.71 L450.93 263.89 L451.83 264.06 L452.73 264.23 L453.63 264.39 L454.53 264.55 L455.43 264.70 L456.33 264.85 L457.23 265.00 L458.13 265.13 L459.03 265.27 L459.93 265.40 L460.83 265.52 L461.73 265.64 L462.63 265.76 L463.53 265.87 L464.43 265.98 L465.33 266.09 L466.23 266.19 L467.13 266.29 L468.03 266.38 L468.93 266.47 L469.83 266.56" fill="none" stroke="#000" stroke-width="1.5" stroke-linejoin="round"/>
<path d="M361.83 232.57 L362.73 232.80 L363.63 233.04 L364.53 233.30 L365.43 233.58 L366.33 233.87 L367.23 234.18 L368.13 234.51 L369.03 234.85 L369.93 235.22 L370.83 235.60 L371.73 236.01 L372.63 236.44 L373.53 236.90 L374.43 237.38 L375.33 237.88 L376.23 238.42 L377.13 238.98 L378.03 239.57 L378.93 240.20 L379.83 240.86 L380.73 241.55 L381.63 242.28 L382.53 243.04 L383.43 243.85 L384.33 244.69 L385.23 245.58 L386.13 246.50 L387.03 247.47 L387.93 248.49 L388.83 249.55 L389.73 250.66 L390.63 251.82 L391.53 253.02 L392.43 254.28 L393.33 255.58 L394.23 256.94 L395.13 258.35 L396.03 259.81 L396.93 261.32 L397.83 262.89 L398.73 264.50 L399.63 266.17 L400.53 267.88 L401.43 269.64 L402.33 271.45 L403.23 273.31 L404.13 275.21 L405.03 277.16 L405.93 279.14 L406.83 281.16 L407.73 283.21 L408.63 285.29 L409.53 287.41 L410.43 289.54 L411.33 291.70 L412.23 293.88 L413.13 296.06 L414.03 298.26 L414.93 300.46 L415.83 302.67 L416.73 304.87 L417.63 307.06 L418.53 309.24 L419.43 311.41 L420.33 313.56 L421.23 315.69 L422.13 317.79 L423.03 319.86 L423.93 321.90 L424.83 323.90 L425.73 325.86 L426.63 327.79 L427.53 329.67 L428.43 331.50 L429.33 333.29 L430.23 335.04 L431.13 336.73 L432.03 338.37 L432.93 339.96 L433.83 341.50 L434.73 342.99 L435.63 344.43 L436.53 345.81 L437.43 347.15 L438.33 348.43 L439.23 349.66 L440.13 350.85 L441.03 351.98 L441.93 353.07 L442.83 354.11 L443.73 355.10 L444.63 356.05 L445.53 356.96 L446.43 357.83 L447.33 358.65 L448.23 359.44 L449.13 360.19 L450.03 360.90 L450.93 361.57 L451.83 362.22 L452.73 362.83 L453.63 363.41 L454.53 363.96 L455.43 364.48 L456.33 364.97 L457.23 365.44 L458.13 365.89 L459.03 366.31 L459.93 366.70 L460.83 367.08 L461.73 367.44 L462.63 367.77 L463.53 368.09 L464.43 368.39 L465.33 368.68 L466.23 368.94 L467.13 369.20 L468.03 369.44 L468.93 369.66 L469.83 369.88" fill="none" stroke="#000" stroke-width="1.5" stroke-linejoin="round"/>
<circle cx="361.83" cy="231.53" r="2.75" fill="#000"/>
<circle cx="373.83" cy="232.53" r="2.75" fill="#000"/>
<circle cx="385.83" cy="236.52" r="2.75" fill="#000"/>
<circle cx="397.83" cy="244.94" r="2.75" fill="#000"/>
<circle cx="409.83" cy="252.22" r="2.75" fill="#000"/>
<circle cx="421.83" cy="256.93" r="2.75" fill="#000"/>
<circle cx="433.83" cy="257.50" r="2.75" fill="#000"/>
<circle cx="445.83" cy="258.50" r="2.75" fill="#000"/>
<circle cx="457.83" cy="265.78" r="2.75" fill="#000"/>
<circle cx="469.83" cy="270.78" r="2.75" fill="#000"/>
<path d="M361.83 228.55L364.81 231.53L361.83 234.51L358.85 231.53Z" fill="#fff" stroke="#000" stroke-width="1.6"/>
<path d="M373.83 232.83L376.81 235.81L373.83 238.79L370.85 235.81Z" fill="#fff" stroke="#000" stroke-width="1.6"/>
<path d="M385.83 245.10L388.81 248.08L385.83 251.06L382.85 248.08Z" fill="#fff" stroke="#000" stroke-width="1.6"/>
<path d="M397.83 262.37L400.81 265.35L397.83 268.33L394.85 265.35Z" fill="#fff" stroke="#000" stroke-width="1.6"/>
<path d="M409.83 282.50L412.81 285.48L409.83 288.46L406.85 285.48Z" fill="#fff" stroke="#000" stroke-width="1.6"/>
<path d="M421.83 311.61L424.81 314.59L421.83 317.57L418.85 314.59Z" fill="#fff" stroke="#000" stroke-width="1.6"/>
<path d="M433.83 342.16L436.81 345.14L433.83 348.12L430.85 345.14Z" fill="#fff" stroke="#000" stroke-width="1.6"/>
<path d="M445.83 354.72L448.81 357.70L445.83 360.68L442.85 357.70Z" fill="#fff" stroke="#000" stroke-width="1.6"/>
<path d="M457.83 362.28L460.81 365.26L457.83 368.24L454.85 365.26Z" fill="#fff" stroke="#000" stroke-width="1.6"/>
<path d="M469.83 365.85L472.81 368.83L469.83 371.81L466.85 368.83Z" fill="#fff" stroke="#000" stroke-width="1.6"/>
<circle cx="361.83" cy="227.67" r="2.4" fill="#fff" stroke="#000" stroke-width="1.2"/>
<circle cx="373.83" cy="225.10" r="2.4" fill="#fff" stroke="#000" stroke-width="1.2"/>
<circle cx="385.83" cy="227.25" r="2.4" fill="#fff" stroke="#000" stroke-width="1.2"/>
<circle cx="397.83" cy="227.67" r="2.4" fill="#fff" stroke="#000" stroke-width="1.2"/>
<circle cx="409.83" cy="228.67" r="2.4" fill="#fff" stroke="#000" stroke-width="1.2"/>
<circle cx="421.83" cy="228.96" r="2.4" fill="#fff" stroke="#000" stroke-width="1.2"/>
<circle cx="433.83" cy="225.96" r="2.4" fill="#fff" stroke="#000" stroke-width="1.2"/>
<circle cx="445.83" cy="225.68" r="2.4" fill="#fff" stroke="#000" stroke-width="1.2"/>
<circle cx="457.83" cy="228.82" r="2.4" fill="#fff" stroke="#000" stroke-width="1.2"/>
<circle cx="469.83" cy="228.82" r="2.4" fill="#fff" stroke="#000" stroke-width="1.2"/>
<circle cx="458.80" cy="299.70" r="2.75" fill="#000"/>
<path d="M458.80 313.52L461.78 316.50L458.80 319.48L455.82 316.50Z" fill="#fff" stroke="#000" stroke-width="1.6"/>
<line x1="451.50" y1="332.30" x2="466.20" y2="332.30" stroke="#000" stroke-width="1.3"/>
<circle cx="458.80" cy="332.30" r="2.4" fill="#fff" stroke="#000" stroke-width="1.2"/>
<text transform="translate(473.42,302.95) scale(1,0.9856)" font-size="9.439" font-family="Liberation Sans, sans-serif" font-weight="bold" text-rendering="geometricPrecision" style="font-kerning:none;font-variant-ligatures:none" stroke="#000" stroke-width="0.30" stroke-linejoin="round" xml:space="preserve">K7153A</text>
<text transform="translate(473.59,318.80) scale(1,0.9753)" font-size="9.24" font-family="Liberation Sans, sans-serif" font-weight="bold" text-rendering="geometricPrecision" style="font-kerning:none;font-variant-ligatures:none" stroke="#000" stroke-width="0.30" stroke-linejoin="round" xml:space="preserve">rituximab</text>
<text transform="translate(473.94,335.70) scale(1,0.9671)" font-size="9.469" font-family="Liberation Sans, sans-serif" font-weight="bold" text-rendering="geometricPrecision" style="font-kerning:none;font-variant-ligatures:none" stroke="#000" stroke-width="0.30" stroke-linejoin="round" xml:space="preserve">huIgG</text></svg>
</body></html>
